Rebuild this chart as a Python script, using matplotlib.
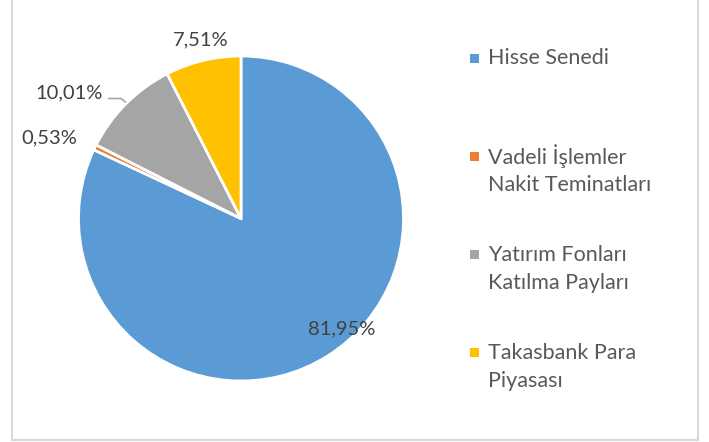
import numpy as np
import matplotlib
matplotlib.use("Agg")
import matplotlib.pyplot as plt
from matplotlib.patches import Rectangle

plt.rcParams["font.family"] = ["Lato", "DejaVu Sans"]

categories = ["Hisse Senedi", "Vadeli İşlemler\nNakit Teminatları",
              "Yatırım Fonları\nKatılma Payları", "Takasbank Para\nPiyasası"]
shares = [81.95, 0.53, 10.01, 7.51]
share_labels = ["81,95%", "0,53%", "10,01%", "7,51%"]
colors = ["#5B9BD5", "#ED7D31", "#A5A5A5", "#FFC000"]

# label anchor points in pixels (Excel "best fit" placement)
label_pos = [(342, 329), (49, 138), (69, 93), (201, 40)]

W, H = 709, 442
fig = plt.figure(figsize=(W / 100, H / 100), dpi=100)
ax = fig.add_axes([0, 0, 1, 1])

# y axis is inverted (pixel coords), so counterclock=True draws clockwise on screen
ax.pie(shares, colors=colors, startangle=270, counterclock=True,
       center=(241, 218.5), radius=162.5,
       wedgeprops=dict(edgecolor="white", linewidth=2))

for txt, (x, y) in zip(share_labels, label_pos):
    ax.text(x, y, txt, ha="center", va="center", fontsize=14.5, color="#404040")

# leader line for the 10,01% label
ax.plot([108, 121, 126], [98.5, 98.5, 102.5], color="#A6A6A6", lw=1.2,
        solid_capstyle="butt")

# legend drawn by hand, marker aligned with first text line
leg_y0, leg_step, line_h = 58, 98.3, 28.5
for i, (name, c) in enumerate(zip(categories, colors)):
    y = leg_y0 + i * leg_step
    ax.add_patch(Rectangle((470, y - 4.5), 9, 9, facecolor=c, edgecolor="none"))
    for j, line in enumerate(name.split("\n")):
        ax.text(488, y + j * line_h, line, ha="left", va="center",
                fontsize=15.5, color="#595959")

# chart border
ax.add_patch(Rectangle((11.5, -10), 686, 449.5, facecolor="none",
                       edgecolor="#D9D9D9", lw=1.5))

ax.set_xlim(0, W)
ax.set_ylim(H, 0)
ax.set_aspect("equal", adjustable="box")
ax.axis("off")

fig.savefig("out.png", dpi=100, facecolor="white")
